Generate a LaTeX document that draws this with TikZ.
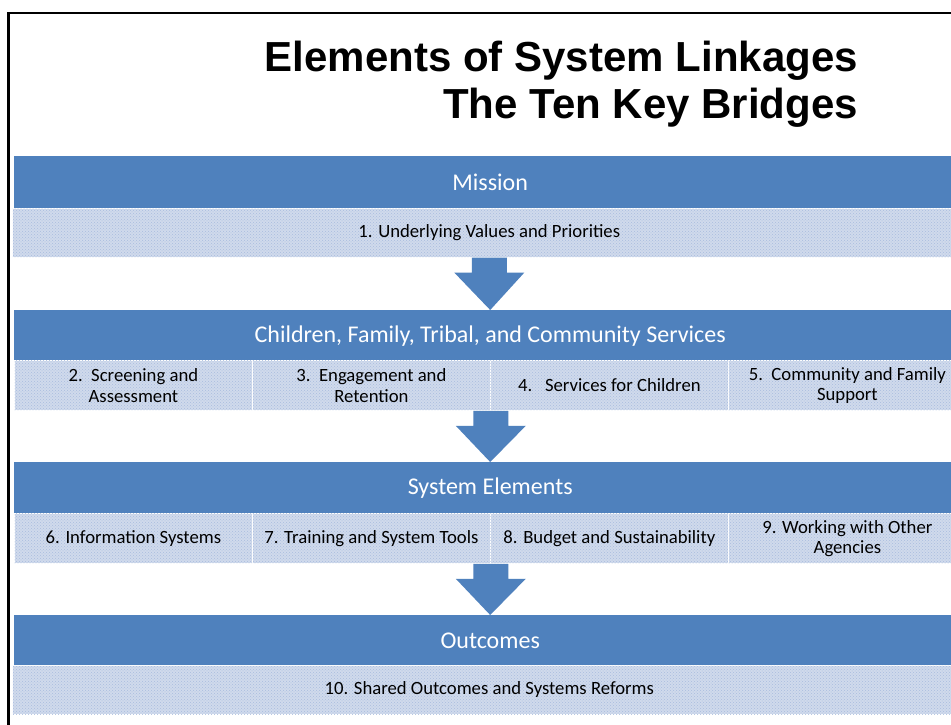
\documentclass[tikz,border=0pt]{standalone}
\usepackage{fontspec}
\setmainfont{Carlito}
\newfontfamily\titlefont{Liberation Sans}
\usetikzlibrary{calc,patterns}
\definecolor{bandblue}{RGB}{79,129,189}
\definecolor{lightband}{RGB}{208,218,236}
\definecolor{dotblue}{RGB}{168,188,222}
\begin{document}
\begin{tikzpicture}[x=1pt,y=-1pt,
  header/.style={fill=bandblue, draw=none, minimum width=952pt, minimum height=52pt,
    inner sep=0pt, anchor=north west, text=white, font=\fontsize{24}{28}\selectfont},
  fullband/.style={fill=lightband, draw=white, line width=0.6pt, minimum width=954pt, minimum height=49pt,
    inner sep=0pt, anchor=north west, text=black, font=\fontsize{18.7}{20.5}\selectfont,
    postaction={pattern=crosshatch dots, pattern color=dotblue}},
  cell/.style={fill=lightband, draw=white, line width=0.8pt, minimum width=238pt, minimum height=50pt,
    inner sep=0pt, anchor=north west, text=black, align=center, font=\fontsize{18.7}{20.5}\selectfont,
    postaction={pattern=crosshatch dots, pattern color=dotblue}},
  titletext/.style={anchor=base east, inner sep=0pt, font=\titlefont\bfseries\fontsize{42}{46}\selectfont},
  blockarrow/.style={fill=bandblue, draw=none}
]
\useasboundingbox (0,0) rectangle (951,725);
\clip (0,0) rectangle (951,725);
\fill[white] (0,0) rectangle (951,725);

% frame
\coordinate (fbl) at (8.5,730);
\coordinate (ftl) at (8.5,13);
\coordinate (ftr) at (960,13);
\draw[line width=2.6pt, black] (fbl) -- (ftl) -- (ftr);

% title
\node[titletext] (t1) at (858,72) {Elements of System Linkages};
\node[titletext] (t2) at (858,118) {The Ten Key Bridges};

% row 1
\node[header] (h1) at (14,156) {Mission};
\node[fullband] (d1) at (12,208) {1. Underlying Values and Priorities};

% row 2
\node[header] (h2) at (14,310) {Children, Family, Tribal, and Community Services};
\node[cell] (s2) at (14,360) {2.\ \ Screening and\\Assessment};
\node[cell] (s3) at (252,360) {3.\ \ Engagement and\\Retention};
\node[cell] (s4) at (490,360) {4.\ \ \ Services for Children};
\node[cell] (s5) at (728,360) {5.\ \ Community and Family\\Support};

% row 3
\node[header] (h3) at (14,462) {System Elements};
\node[cell] (s6) at (14,513) {6. Information Systems};
\node[cell] (s7) at (252,513) {7. Training and System Tools};
\node[cell] (s8) at (490,513) {8. Budget and Sustainability};
\node[cell] (s9) at (728,513) {9. Working with Other\\Agencies};

% row 4
\node[header] (h4) at (14,615) {Outcomes};
\node[fullband] (d4) at (12,665) {10. Shared Outcomes and Systems Reforms};

% block arrows
\fill[blockarrow] ($(d1.south)+(-17.5,0)$) -- ($(d1.south)+(17.5,0)$) -- ($(d1.south)+(17.5,15)$)
  -- ($(d1.south)+(35,15)$) -- (h2.north) -- ($(d1.south)+(-35,15)$) -- ($(d1.south)+(-17.5,15)$) -- cycle;
\fill[blockarrow] ($(s3.south east)+(-17.5,0)$) -- ($(s3.south east)+(17.5,0)$) -- ($(s3.south east)+(17.5,15)$)
  -- ($(s3.south east)+(35,15)$) -- (h3.north) -- ($(s3.south east)+(-35,15)$) -- ($(s3.south east)+(-17.5,15)$) -- cycle;
\fill[blockarrow] ($(s7.south east)+(-17.5,0)$) -- ($(s7.south east)+(17.5,0)$) -- ($(s7.south east)+(17.5,15)$)
  -- ($(s7.south east)+(35,15)$) -- (h4.north) -- ($(s7.south east)+(-35,15)$) -- ($(s7.south east)+(-17.5,15)$) -- cycle;
\end{tikzpicture}
\end{document}
